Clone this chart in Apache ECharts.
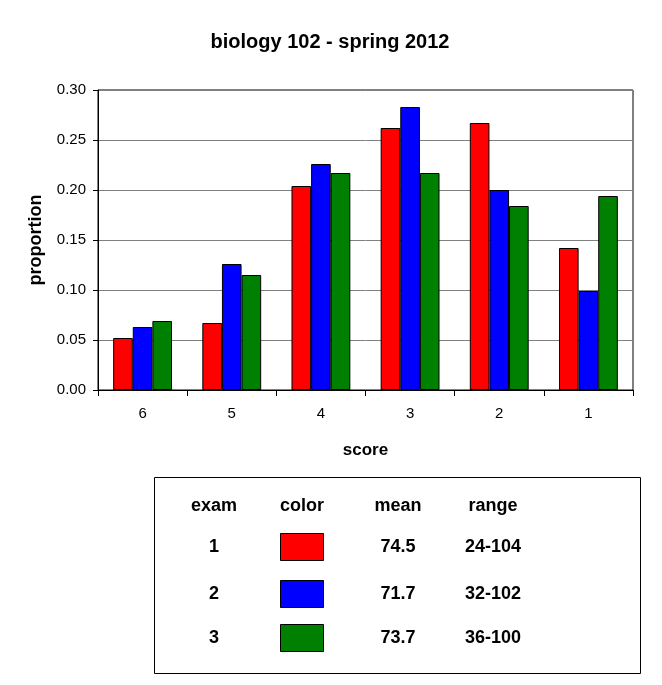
<!DOCTYPE html>
<html>
<head>
<meta charset="utf-8">
<script src="https://cdn.jsdelivr.net/npm/echarts@6/dist/echarts.min.js"></script>
<style>
  html, body { margin: 0; padding: 0; background: #fff; }
  #chart { width: 662px; height: 685px; }
</style>
</head>
<body>
<div id="chart"></div>
<script>
  // scores shown left to right
  var categories = ['6', '5', '4', '3', '2', '1'];
  var exam1 = [0.052, 0.067, 0.204, 0.262, 0.267, 0.142];
  var exam2 = [0.063, 0.126, 0.226, 0.283, 0.200, 0.099];
  var exam3 = [0.069, 0.115, 0.217, 0.217, 0.184, 0.194];

  // table under the chart
  var examNames = ['1', '2', '3'];
  var examColors = ['#ff0000', '#0000ff', '#008000'];
  var examMeans = ['74.5', '71.7', '73.7'];
  var examRanges = ['24-104', '32-102', '36-100'];

  var font = 'Liberation Sans, Arial, sans-serif';
  var chart = echarts.init(document.getElementById('chart'));

  // build the table as graphic elements
  var colX = [214, 302, 398, 493];
  var rowY = [547, 594, 638];
  var cellFont = 'bold 18px ' + font;
  var tableItems = [
    { type: 'rect', shape: { x: 154.5, y: 477.5, width: 486, height: 196 },
      style: { fill: '#fff', stroke: '#000', lineWidth: 1 } }
  ];
  ['exam', 'color', 'mean', 'range'].forEach(function (h, i) {
    tableItems.push({ type: 'text', x: colX[i], y: 506,
      style: { text: h, font: cellFont, fill: '#000', align: 'center', verticalAlign: 'middle' } });
  });
  examNames.forEach(function (name, i) {
    tableItems.push({ type: 'text', x: colX[0], y: rowY[i],
      style: { text: name, font: cellFont, fill: '#000', align: 'center', verticalAlign: 'middle' } });
    tableItems.push({ type: 'rect', shape: { x: 280.5, y: rowY[i] - 13.5, width: 43, height: 27 },
      style: { fill: examColors[i], stroke: '#000', lineWidth: 1 } });
    tableItems.push({ type: 'text', x: colX[2], y: rowY[i],
      style: { text: examMeans[i], font: cellFont, fill: '#000', align: 'center', verticalAlign: 'middle' } });
    tableItems.push({ type: 'text', x: colX[3], y: rowY[i],
      style: { text: examRanges[i], font: cellFont, fill: '#000', align: 'center', verticalAlign: 'middle' } });
  });

  var barStyle = function (c) {
    return { color: c, borderColor: '#000', borderWidth: 1 };
  };

  chart.setOption({
    animation: false,
    backgroundColor: '#fff',
    title: {
      text: 'biology 102 - spring 2012',
      left: 325, top: 27, textAlign: 'center',
      textStyle: { fontFamily: font, fontSize: 20, fontWeight: 'bold', color: '#000' }
    },
    grid: {
      left: 98, top: 90, width: 535, height: 300,
      show: true, borderColor: '#000', borderWidth: 1, backgroundColor: '#fff'
    },
    xAxis: {
      type: 'category',
      data: categories,
      name: 'score',
      nameLocation: 'middle',
      nameGap: 52,
      nameTextStyle: { fontFamily: font, fontSize: 17, fontWeight: 'bold', color: '#000' },
      axisLine: { lineStyle: { color: '#000', width: 1 } },
      axisTick: { show: true, length: 6, lineStyle: { color: '#000' } },
      axisLabel: { fontFamily: font, fontSize: 15, color: '#000', margin: 16 }
    },
    yAxis: {
      type: 'value',
      min: 0, max: 0.30, interval: 0.05,
      name: 'proportion',
      nameLocation: 'middle',
      nameGap: 53,
      nameTextStyle: { fontFamily: font, fontSize: 18, fontWeight: 'bold', color: '#000' },
      axisLine: { show: true, lineStyle: { color: '#000', width: 1 } },
      axisTick: { show: true, length: 5, lineStyle: { color: '#000' } },
      axisLabel: { fontFamily: font, fontSize: 15, color: '#000', margin: 12,
        formatter: function (v) { return v.toFixed(2); } },
      splitLine: { lineStyle: { color: '#808080', width: 1 } }
    },
    series: [
      { name: 'exam 1', type: 'bar', data: exam1, itemStyle: barStyle(examColors[0]), barGap: '0%', barCategoryGap: '34%' },
      { name: 'exam 2', type: 'bar', data: exam2, itemStyle: barStyle(examColors[1]), barGap: '0%', barCategoryGap: '34%' },
      { name: 'exam 3', type: 'bar', data: exam3, itemStyle: barStyle(examColors[2]), barGap: '0%', barCategoryGap: '34%' }
    ],
    graphic: tableItems
  });
</script>
</body>
</html>
